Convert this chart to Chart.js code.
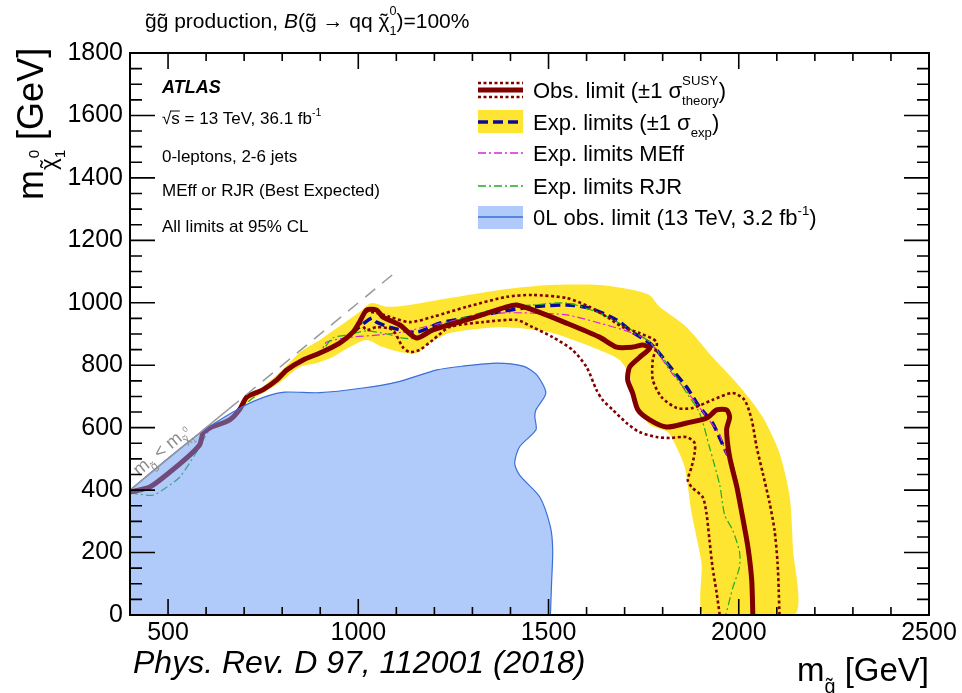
<!DOCTYPE html>
<html>
<head>
<meta charset="utf-8">
<script src="https://cdn.jsdelivr.net/npm/chart.js@4.4.1/dist/chart.umd.min.js"></script>
<style>
html,body{margin:0;padding:0;background:#fff}
#grafica{display:block}
</style>
</head>
<body>
<canvas id="grafica" width="962" height="693"></canvas>
<script>
//DATOS
const xTickLabels=[500,1000,1500,2000,2500]
const yTickLabels=[0,200,400,600,800,1000,1200,1400,1600,1800]

// limite observado (linea gruesa)
const obsMass=[400,452,505,549,583,592,610,662,689,707,749,786,812,855,899,951,986,1004,1022,1048,1064,1109,1153,1196,1284,1390,1416,1459,1547,1634,1679,1721,1748,1766,1740,1713,1708,1721,1735,1766,1810,1863,1916,1942,1968,1976,1968,1976,1995,2008,2024,2034,2037]
const obsLsp=[394,410,458,503,545,583,599,625,660,698,721,753,785,817,839,871,906,940,977,977,955,929,887,913,945,987,993,977,935,890,858,858,865,855,826,794,753,711,657,625,602,615,631,657,657,634,593,506,410,327,218,112,0]

// +1 sigma teoria
const upMass=[812,855,899,951,986,1017,1048,1083,1135,1196,1285,1390,1458,1548,1608,1653,1695,1739,1784,1774,1774,1797,1837,1879,1931,1984,2015,2034,2047,2063,2081,2094,2102,2105,2107]
const upLsp=[785,817,839,871,906,970,967,955,938,955,987,1019,1025,1015,987,955,922,903,874,817,753,698,663,663,689,711,689,625,538,455,359,272,167,80,0]

// -1 sigma teoria
const dnMass=[899,951,985,1004,1022,1048,1090,1117,1135,1161,1196,1240,1327,1416,1458,1511,1563,1600,1626,1642,1669,1705,1739,1784,1818,1863,1884,1884,1876,1866,1876,1905,1915,1923,1931,1942,1950]
const dnLsp=[839,871,903,935,913,922,913,858,842,849,881,922,938,945,922,890,849,794,721,689,657,615,586,570,567,570,551,519,474,432,410,378,327,240,154,70,0]

// esperado
const expMass=[812,855,899,951,986,1035,1048,1090,1154,1214,1285,1372,1458,1548,1608,1679,1721,1766,1784,1826,1863,1897,1931,1968,1976,1995,2008,2024,2034,2037]
const expLsp=[785,817,839,871,906,951,938,919,906,935,951,971,987,993,983,945,906,871,849,785,730,666,615,519,506,410,327,218,112,0]

// esperado MEff
const meffMass=[812,855,899,917,985,1056,1117,1196,1285,1372,1458,1548,1634,1721,1766,1818,1871,1916,1950,1968,1976,1995,2008,2024,2034,2037]
const meffLsp=[785,817,839,874,890,897,906,929,951,967,967,961,935,903,874,785,705,634,577,513,506,410,327,218,112,0]

// esperado RJR
const rjrMass=[400,460,497,531,575,610,662,689,749,812,855,899,933,970,1022,1075,1117,1153,1196,1285,1372,1458,1548,1634,1705,1766,1818,1863,1897,1923,1950,1963,1984,2002,2002,1984,1966]
const rjrLsp=[391,384,410,442,522,593,625,660,721,785,817,839,887,897,910,900,887,887,919,955,983,993,999,967,922,874,794,711,647,538,416,320,272,202,154,86,0]

// banda +-1 sigma exp (contorno cerrado)
const bandMass=[690,720,760,800,850,899,1004,1035,1075,1135,1240,1372,1503,1634,1721,1765,1792,1863,1931,2010,2063,2107,2134,2142,2147,1910,1902,1876,1858,1831,1813,1766,1739,1721,1713,1687,1634,1503,1372,1240,1180,1153,1109,1064,1022,977,933,891,846,794,754,720,690]
const bandLsp=[665,700,742,785,845,881,971,999,987,993,1015,1041,1057,1057,1041,1025,987,922,826,721,634,519,378,218,0,0,167,327,474,551,586,609,657,721,769,817,849,906,922,903,865,839,842,858,881,858,826,807,794,745,715,690,662]

// 0L 3.2 fb-1 (contorno cerrado)
const oldMass=[400,400,400,578,694,760,807,899,1012,1101,1207,1275,1363,1433,1469,1493,1467,1464,1467,1424,1411,1424,1477,1505,1511,1508,1505]
const oldLsp=[0,395,400,577,666,701,714,712,727,746,785,797,807,797,769,711,657,635,593,539,487,448,378,282,208,102,0]

// diagonal m(gluino)=m(neutralino)
const diagSolid=[400,660]
const diagDashed=[660,1100]

const FONT='"Liberation Sans", Arial, Helvetica, sans-serif'
const rojo="#800000"
const amarillo="#fde532"
const azulRelleno="rgba(97,150,245,0.5)"
const azulBorde="#3a6fd8"

//FUNCIONES
function puntos(xs,ys){
    return xs.map((v,i)=>({x:v,y:ys[i]}))
}

// texto con sub/superindices; tilde:true pone una tilde encima de la letra
function rich(ctx,x,y,size,parts,measure){
    let cx=x
    for (const p of parts) {
        const fs=size*(p.k||1)
        ctx.font=(p.f?p.f+" ":"")+fs+"px "+FONT
        const w=ctx.measureText(p.t).width
        const py=y+size*(p.dy||0)
        if (!measure) {
            ctx.fillText(p.t,cx,py)
            if (p.tilde) {
                const wt=ctx.measureText("\u02dc").width
                ctx.fillText("\u02dc",cx+(w-wt)/2,py)
            }
        }
        if (!p.stay) cx+=w
    }
    return cx-x
}

function linea(ctx,x1,x2,y,color,width,dash){
    ctx.save()
    ctx.strokeStyle=color
    ctx.lineWidth=width
    ctx.setLineDash(dash||[])
    ctx.beginPath()
    ctx.moveTo(x1,y)
    ctx.lineTo(x2,y)
    ctx.stroke()
    ctx.restore()
}

// relleno de contornos cerrados usando el path del propio elemento de linea
const rellenoForma={
    id:"rellenoForma",
    beforeDatasetDraw(chart,args){
        const ds=chart.data.datasets[args.index]
        if (!ds.areaColor) return
        const ctx=chart.ctx
        const a=chart.chartArea
        ctx.save()
        ctx.beginPath()
        ctx.rect(a.left,a.top,a.right-a.left,a.bottom-a.top)
        ctx.clip()
        ctx.beginPath()
        args.meta.dataset.path(ctx)
        ctx.closePath()
        ctx.fillStyle=ds.areaColor
        ctx.fill()
        ctx.restore()
    }
}

const marco={
    id:"marco",
    afterDraw(chart){
        const ctx=chart.ctx
        const a=chart.chartArea
        const sx=chart.scales.x
        const sy=chart.scales.y
        ctx.save()

        // etiqueta sobre la diagonal
        const x0=sx.getPixelForValue(400), y0=sy.getPixelForValue(400)
        const x1=sx.getPixelForValue(1100), y1=sy.getPixelForValue(1100)
        const ang=Math.atan2(y1-y0,x1-x0)
        ctx.save()
        ctx.translate(sx.getPixelForValue(432),sy.getPixelForValue(432))
        ctx.rotate(ang)
        ctx.fillStyle="#8c8c8c"
        rich(ctx,0,-5,18,[{t:"m"},{t:"g\u0303",k:.65,dy:.3},{t:" < m"},{t:"\u03c7",k:.65,dy:.3,tilde:true},{t:"0",k:.45,dy:-.25,stay:true},{t:"1",k:.45,dy:.55}])
        ctx.restore()

        // marco y ticks hacia adentro
        ctx.strokeStyle="#000"
        ctx.lineWidth=2
        ctx.strokeRect(a.left,a.top,a.right-a.left,a.bottom-a.top)
        ctx.lineWidth=1.6
        ctx.beginPath()
        for (let v=400; v<=2500; v+=100) {
            const p=sx.getPixelForValue(v)
            const l=v%500===0?16:8
            ctx.moveTo(p,a.bottom); ctx.lineTo(p,a.bottom-l)
            ctx.moveTo(p,a.top); ctx.lineTo(p,a.top+l)
        }
        for (let v=0; v<=1800; v+=50) {
            const p=sy.getPixelForValue(v)
            const l=v%200===0?25:12
            ctx.moveTo(a.left,p); ctx.lineTo(a.left+l,p)
            ctx.moveTo(a.right,p); ctx.lineTo(a.right-l,p)
        }
        ctx.stroke()

        ctx.fillStyle="#000"
        ctx.textBaseline="alphabetic"
        ctx.textAlign="left"

        // titulo
        rich(ctx,145,28,21,[{t:"g\u0303g\u0303 production, "},{t:"B",f:"italic"},{t:"(g\u0303 \u2192 qq "},{t:"\u03c7",tilde:true},{t:"0",k:.6,dy:-.62,stay:true},{t:"1",k:.6,dy:.32},{t:")=100%"}])

        // bloque ATLAS
        ctx.font="italic bold 18px "+FONT
        ctx.fillText("ATLAS",162,93)
        ctx.font="17px "+FONT
        const wr=ctx.measureText("\u221a").width
        const ws=ctx.measureText("s").width
        rich(ctx,162,124,17,[{t:"\u221as = 13 TeV, 36.1 fb"},{t:"-1",k:.62,dy:-.45}])
        ctx.lineWidth=1
        ctx.beginPath(); ctx.moveTo(162+wr-1,111); ctx.lineTo(162+wr+ws,111); ctx.stroke()
        rich(ctx,162,162,17,[{t:"0-leptons, 2-6 jets"}])
        rich(ctx,162,196,17,[{t:"MEff or RJR (Best Expected)"}])
        rich(ctx,162,232,17,[{t:"All limits at 95% CL"}])

        // leyenda
        const lx1=478, lx2=523, tx=533
        linea(ctx,lx1,lx2,83,rojo,2.5,[3,2.5])
        linea(ctx,lx1,lx2,97,rojo,2.5,[3,2.5])
        linea(ctx,lx1,lx2,90,rojo,5)
        ctx.fillStyle=amarillo
        ctx.fillRect(lx1,110,lx2-lx1,23)
        linea(ctx,lx1,lx2,122,"#0a0a9a",3.5,[10,5])
        linea(ctx,lx1,lx2,153,"#dd22dd",1.3,[8,3,2,3])
        linea(ctx,lx1,lx2,186,"#22aa22",1.3,[8,3,2,3])
        ctx.fillStyle=azulRelleno
        ctx.fillRect(lx1,206,lx2-lx1,23)
        linea(ctx,lx1,lx2,217,azulBorde,1.3)
        ctx.fillStyle="#000"
        rich(ctx,tx,98,22,[{t:"Obs. limit (\u00b11 \u03c3"},{t:"SUSY",k:.6,dy:-.6,stay:true},{t:"theory",k:.6,dy:.32},{t:")"}])
        rich(ctx,tx,130,22,[{t:"Exp. limits (\u00b11 \u03c3"},{t:"exp",k:.6,dy:.32},{t:")"}])
        rich(ctx,tx,161,22,[{t:"Exp. limits MEff"}])
        rich(ctx,tx,194,22,[{t:"Exp. limits RJR"}])
        rich(ctx,tx,225,22,[{t:"0L obs. limit (13 TeV, 3.2 fb"},{t:"-1",k:.6,dy:-.45},{t:")"}])

        // titulos de ejes
        const xt=[{t:"m"},{t:"g\u0303",k:.6,dy:.35},{t:" [GeV]"}]
        const wx=rich(ctx,0,0,33,xt,true)
        rich(ctx,a.right-wx,681,33,xt)

        ctx.save()
        ctx.translate(43,200)
        ctx.rotate(-Math.PI/2)
        rich(ctx,0,0,36,[{t:"m"},{t:"\u03c7",k:.62,dy:.35,tilde:true},{t:"0",k:.42,dy:-.12,stay:true},{t:"1",k:.42,dy:.6},{t:" [GeV]"}])
        ctx.restore()

        // referencia
        ctx.font="italic 32px "+FONT
        ctx.fillText("Phys. Rev. D 97, 112001 (2018)",133,673)

        ctx.restore()
    }
}

//GRAFICA
const datasets=[
    {data:puntos(diagDashed,diagDashed),borderColor:"#999999",borderWidth:1.5,borderDash:[13,9],order:0},
    {data:puntos(diagSolid,diagSolid),borderColor:"#999999",borderWidth:1.5,order:0},
    {data:puntos(oldMass,oldLsp),borderColor:azulBorde,borderWidth:1.2,areaColor:azulRelleno,order:1},
    {data:puntos(obsMass,obsLsp),borderColor:rojo,borderWidth:5,borderJoinStyle:"round",borderCapStyle:"round",order:2},
    {data:puntos(upMass,upLsp),borderColor:rojo,borderWidth:2.6,borderDash:[3,2.6],order:3},
    {data:puntos(dnMass,dnLsp),borderColor:rojo,borderWidth:2.6,borderDash:[3,2.6],order:3},
    {data:puntos(rjrMass,rjrLsp),borderColor:"#22aa22",borderWidth:1.2,borderDash:[8,3,2,3],order:4},
    {data:puntos(meffMass,meffLsp),borderColor:"#dd22dd",borderWidth:1.2,borderDash:[8,3,2,3],order:5},
    {data:puntos(expMass,expLsp),borderColor:"#0a0a9a",borderWidth:3.5,borderDash:[10,5],order:6},
    {data:puntos(bandMass,bandLsp),borderColor:"rgba(0,0,0,0)",borderWidth:0,areaColor:amarillo,order:7}
]

const config={
    type:"scatter",
    data:{datasets},
    options:{
        responsive:false,
        animation:false,
        events:[],
        layout:{padding:{left:0,right:33,top:53,bottom:0}},
        elements:{
            point:{radius:0},
            line:{tension:0.25,fill:false}
        },
        datasets:{scatter:{showLine:true}},
        plugins:{legend:{display:false},tooltip:{enabled:false}},
        scales:{
            x:{
                type:"linear",min:400,max:2500,
                afterBuildTicks:s=>{s.ticks=xTickLabels.map(v=>({value:v}))},
                afterFit:s=>{s.height=78},
                grid:{display:false,drawTicks:false},
                border:{display:false},
                ticks:{font:{family:FONT,size:25},color:"#000",padding:3,maxRotation:0,autoSkip:false,callback:v=>String(v)}
            },
            y:{
                type:"linear",min:0,max:1800,
                afterBuildTicks:s=>{s.ticks=yTickLabels.map(v=>({value:v}))},
                afterFit:s=>{s.width=130},
                grid:{display:false,drawTicks:false},
                border:{display:false},
                ticks:{font:{family:FONT,size:25},color:"#000",padding:7,autoSkip:false,callback:v=>String(v)}
            }
        }
    },
    plugins:[rellenoForma,marco]
}

const myChart=document.querySelector("#grafica")
myChart.chart=new Chart(myChart,config)
</script>
</body>
</html>
